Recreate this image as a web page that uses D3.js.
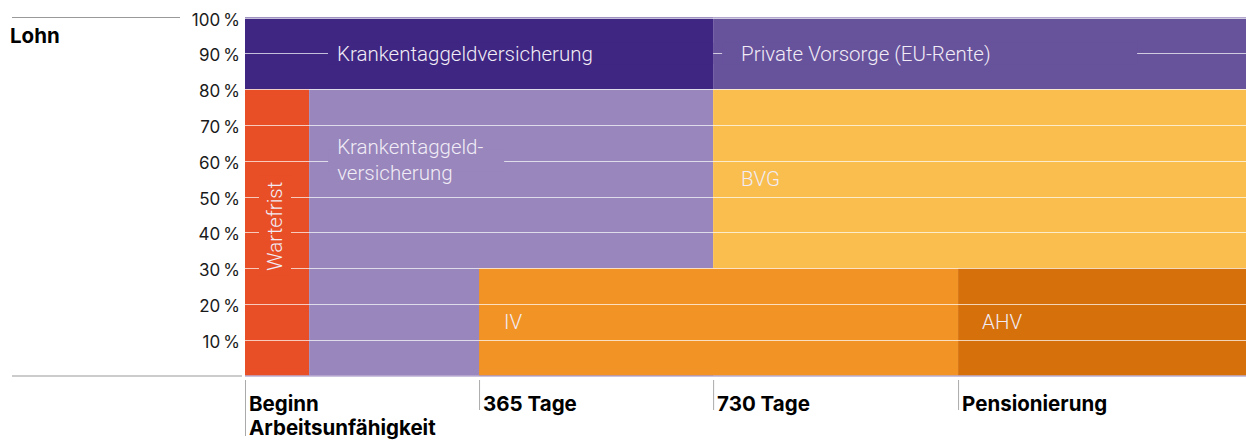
<!DOCTYPE html>
<meta charset="utf-8">
<style>
    body { margin: 0; background: #fff; }
    text { font-family: Roboto, "Noto Sans", sans-serif; }
    .tick-y { font-family: Inter, "Noto Sans", sans-serif; font-size: 17px; fill: #1a1a1a; }
    .stage { font-family: Inter, "Noto Sans", sans-serif; font-weight: 700; font-size: 20.5px; fill: #000; }
    .band-label { font-weight: 300; font-size: 20.5px; fill: #f1ecf6; }
</style>
<body>
<svg id="chart" width="1246" height="442"></svg>
</body>
<script src="https://d3js.org/d3.v7.min.js"></script>
<script>

    // time axis in days from start of incapacity
    var stageNames = ["Beginn|Arbeitsunfähigkeit", "365 Tage", "730 Tage", "Pensionierung"];
    var stageDays = [0, 365, 730, 1112];
    var endDay = 1561;
    var waitDays = 100;

    var yTicks = [10, 20, 30, 40, 50, 60, 70, 80, 90, 100];

    // benefit blocks: [from day, to day, from %, to %]
    var blockNames = ["Wartefrist", "KTG", "BVG", "IV", "AHV", "KTG oben", "Privat"];
    var blockFrom = [0, waitDays, 730, 365, 1112, 0, 730];
    var blockTo = [waitDays, 730, endDay, 1112, endDay, 730, endDay];
    var blockLow = [0, 0, 30, 0, 0, 80, 80];
    var blockHigh = [80, 80, 80, 30, 30, 100, 100];

    var colors = {
        "Wartefrist": "#e84f26",
        "KTG": "#9886bc",
        "BVG": "#f9be4e",
        "IV": "#f29325",
        "AHV": "#d5700a",
        "KTG oben": "#3f2682",
        "Privat": "#67529c"
    };

    var svg = d3.select("#chart");
    var x = d3.scaleLinear().domain([0, endDay]).range([245, 1246]);
    var y = d3.scaleLinear().domain([0, 100]).range([375.5, 17.5]);

    var blocks = blockNames.map(function (n, i) {
        return {name: n, x0: blockFrom[i], x1: blockTo[i], y0: blockLow[i], y1: blockHigh[i]};
    });

    svg.append("g").selectAll("rect")
        .data(blocks)
        .enter().append("rect")
        .attr("x", function (d) { return x(d.x0); })
        .attr("width", function (d) { return x(d.x1) - x(d.x0); })
        .attr("y", function (d) { return y(d.y1); })
        .attr("height", function (d) { return y(d.y0) - y(d.y1); })
        .attr("fill", function (d) { return colors[d.name]; });

    // grid lines
    svg.append("g").selectAll("line")
        .data(yTicks)
        .enter().append("line")
        .attr("x1", x(0)).attr("x2", x(endDay))
        .attr("y1", function (d) { return Math.round(y(d)) + 0.5; })
        .attr("y2", function (d) { return Math.round(y(d)) + 0.5; })
        .attr("stroke", "#fff").attr("stroke-opacity", 0.7);

    svg.append("line")
        .attr("x1", x(0)).attr("x2", x(endDay))
        .attr("y1", y(0) + 0.5).attr("y2", y(0) + 0.5)
        .attr("stroke", "#9886bc");

    // y axis labels
    svg.append("g").selectAll("text")
        .data(yTicks)
        .enter().append("text")
        .attr("class", "tick-y")
        .attr("x", 240)
        .attr("y", function (d) { return y(d) + 8; })
        .attr("text-anchor", "end")
        .text(function (d) { return d + "\u2009%"; });

    // side rules + title
    svg.append("line").attr("x1", 12).attr("x2", 180).attr("y1", 17.5).attr("y2", 17.5)
        .attr("stroke", "#999");
    svg.append("line").attr("x1", 12).attr("x2", 242).attr("y1", 376).attr("y2", 376)
        .attr("stroke", "#ccc").attr("stroke-width", 2);
    svg.append("text").attr("x", 10).attr("y", 43)
        .attr("class", "stage").text("Lohn");

    // stage ticks on x axis
    var stages = svg.append("g").selectAll("g")
        .data(stageNames)
        .enter().append("g")
        .attr("transform", function (d, i) { return "translate(" + x(stageDays[i]) + ",0)"; });

    stages.append("line")
        .attr("x1", 0.5).attr("x2", 0.5).attr("y1", 380)
        .attr("y2", function (d) { return d.indexOf("|") >= 0 ? 436 : 410; })
        .attr("stroke", "#aaa");

    stages.append("text")
        .attr("class", "stage")
        .attr("x", 4)
        .selectAll("tspan")
        .data(function (d) { return d.split("|"); })
        .enter().append("tspan")
        .attr("x", 4)
        .attr("y", function (d, i) { return 411 + i * 24; })
        .text(function (d) { return d; });

    // label masks hide grid lines behind labels
    function mask(x0, x1, y0, y1, c) {
        svg.append("rect").attr("x", x0).attr("y", y0)
            .attr("width", x1 - x0).attr("height", y1 - y0).attr("fill", c);
    }
    mask(x(0) + 83, x(730), y(93), y(87), colors["KTG oben"]);
    mask(x(730) + 9, x(730) + 424, y(93), y(87), colors["Privat"]);
    mask(x(waitDays) + 19, x(waitDays) + 195, y(63), y(57), colors["KTG"]);
    mask(x(0) + 14, x(0) + 46, y(56), y(28), colors["Wartefrist"]);

    function label(px, py, lines) {
        var t = svg.append("text").attr("class", "band-label");
        lines.forEach(function (s, i) {
            t.append("tspan").attr("x", px).attr("y", py + i * 26.5).text(s);
        });
    }
    label(x(0) + 92, y(90) + 7.5, ["Krankentaggeldversicherung"]);
    label(x(730) + 28, y(90) + 7.5, ["Private Vorsorge (EU-Rente)"]);
    label(x(waitDays) + 28, y(60) - 7, ["Krankentaggeld-", "versicherung"]);
    label(x(730) + 28, y(55) + 7, ["BVG"]);
    label(x(365) + 25, y(15) + 7.5, ["IV"]);
    label(x(1112) + 24, y(15) + 7.5, ["AHV"]);

    svg.append("text")
        .attr("class", "band-label")
        .attr("transform", "translate(" + (x(waitDays / 2) + 5) + "," + y(41.7) + ") rotate(-90)")
        .attr("text-anchor", "middle")
        .text("Wartefrist");

</script>
